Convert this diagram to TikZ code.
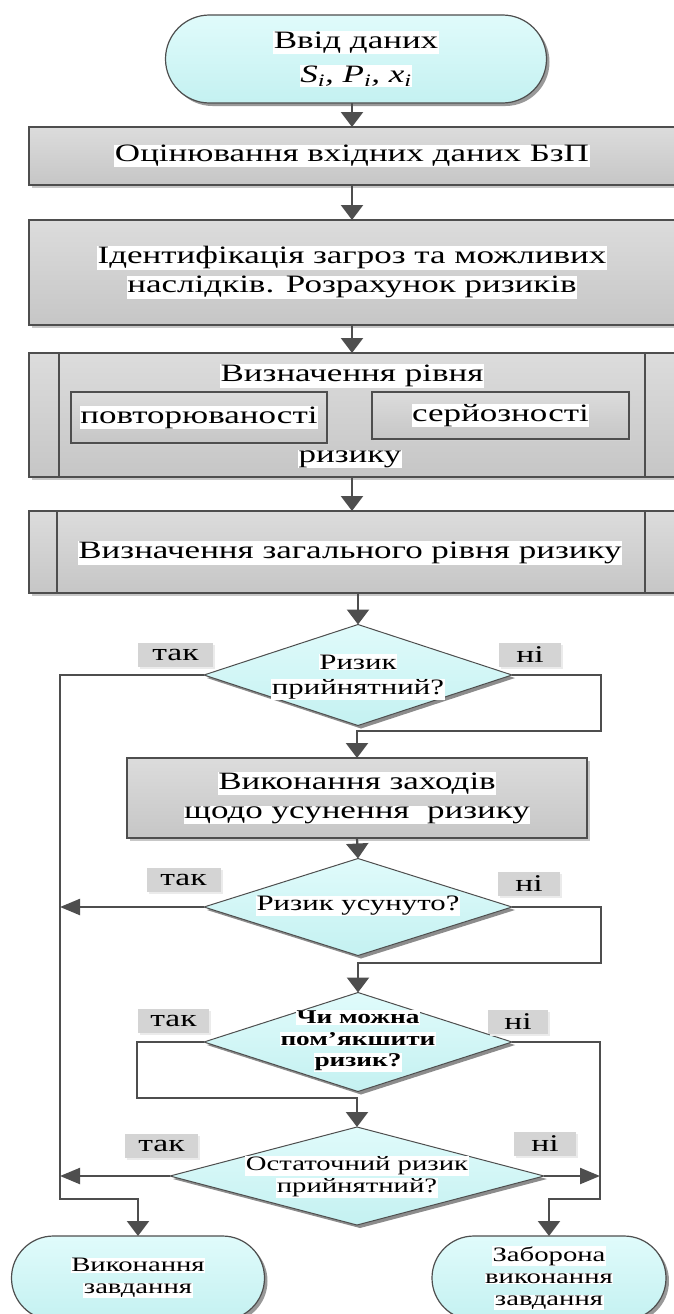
\documentclass[tikz,border=0pt]{standalone}
\usepackage{fontspec}
\setmainfont{Liberation Serif}[FakeStretch=1.4]
\usetikzlibrary{shapes.geometric,arrows.meta,shadows}
\definecolor{cyanT}{RGB}{224,251,251}
\definecolor{cyanB}{RGB}{196,241,241}
\definecolor{grT}{RGB}{220,220,220}
\definecolor{grB}{RGB}{198,198,198}
\definecolor{edge}{RGB}{78,78,78}
\definecolor{tagc}{RGB}{212,212,212}
\newcommand{\hw}[1]{{\setlength{\fboxsep}{0.6pt}\colorbox{white}{#1}}}
\newcommand{\fbig}{\fontsize{25}{28}\selectfont}
\newcommand{\fmid}{\fontsize{22}{24}\selectfont}
\newcommand{\fsmall}{\fontsize{20.5}{22}\selectfont}
\begin{document}
\begin{tikzpicture}[x=1pt,y=-1pt,
  every node/.style={inner sep=0pt,outer sep=0pt,align=center},
  procbox/.style={rectangle,draw=edge,line width=1.4pt,top color=grT,bottom color=grB,
    drop shadow={shadow xshift=3pt,shadow yshift=-3pt,fill=black!22,opacity=1}},
  innerbox/.style={rectangle,draw=edge,line width=1.2pt,top color=grT,bottom color=grB,
    drop shadow={shadow xshift=2pt,shadow yshift=-2pt,fill=black!18,opacity=1}},
  termbox/.style={rectangle,draw=edge,line width=1.2pt,top color=cyanT,bottom color=cyanB,
    drop shadow={shadow xshift=3pt,shadow yshift=-3pt,fill=black!40,opacity=1}},
  decbox/.style={diamond,draw=edge,line width=1pt,top color=cyanT,bottom color=cyanB,
    drop shadow={shadow xshift=3pt,shadow yshift=-3pt,fill=black!45,opacity=1}},
  tag/.style={rectangle,fill=tagc,font=\fontsize{24}{26}\selectfont,minimum height=24pt,
    drop shadow={shadow xshift=2pt,shadow yshift=-2pt,fill=black!8,opacity=1}},
  conn/.style={draw=edge,line width=2.2pt},
  varr/.style={conn,-{Triangle[width=22pt,length=15pt]}},
  harr/.style={conn,-{Triangle[width=16pt,length=20pt]}},
  font=\fbig
]
\useasboundingbox (0,0) rectangle (674,1314);

% start
\node[termbox,minimum width=381pt,minimum height=88pt,rounded corners=44pt] (start) at (356,59)
  {\hw{Ввід даних}\\[6pt]\hw{\itshape S\textsubscript{i}, P\textsubscript{i}, x\textsubscript{i}}};

% process boxes
\node[procbox,minimum width=646pt,minimum height=58pt] (b1) at (352,156)
  {\hw{Оцінювання вхідних даних БзП}};
\node[procbox,minimum width=646pt,minimum height=105pt] (b2) at (352,272.5)
  {\hw{Ідентифікація загроз та можливих}\\[1pt]\hw{наслідків. Розрахунок ризиків}};

\node[procbox,minimum width=646pt,minimum height=124pt] (b3) at (352,415) {};
\draw[edge,line width=1.4pt] ([xshift=30pt]b3.north west) -- ([xshift=30pt]b3.south west);
\draw[edge,line width=1.4pt] ([xshift=-30pt]b3.north east) -- ([xshift=-30pt]b3.south east);
\node (b3a) at (352,376) {\hw{Визначення рівня}};
\node[innerbox,minimum width=256pt,minimum height=51pt] (p1) at (199,417.5) {\hw{повторюваності}};
\node[innerbox,minimum width=257pt,minimum height=47pt] (p2) at (500.5,415.5) {\hw{серйозності}};
\node (b3b) at (350,459) {\hw{ризику}};

\node[procbox,minimum width=646pt,minimum height=82pt] (b4) at (352,552) {};
\draw[edge,line width=1.4pt] ([xshift=28pt]b4.north west) -- ([xshift=28pt]b4.south west);
\draw[edge,line width=1.4pt] ([xshift=-30pt]b4.north east) -- ([xshift=-30pt]b4.south east);
\node (b4t) at (350,553) {\hw{Визначення загального рівня ризику}};

% decision 1
\node[decbox,minimum width=308pt,minimum height=101pt] (d1) at (358,675) {};
\node[font=\fmid] (d1t) at (358,677) {\hw{Ризик}\\[1pt]\hw{прийнятний?}};
\node[tag,minimum width=75pt] (y1) at (175.5,655) {так};
\node[tag,minimum width=62pt] (n1) at (530,654.5) {ні};

\node[procbox,minimum width=460pt,minimum height=80pt] (b5) at (357,798)
  {\hw{Виконання заходів}\\[1pt]\hw{щодо усунення\ \ ризику}};

% decision 2
\node[decbox,minimum width=308pt,minimum height=97pt] (d2) at (358,907) {};
\node[font=\fmid] (d2t) at (358,906) {\hw{Ризик усунуто?}};
\node[tag,minimum width=74pt] (y2) at (183.5,880) {так};
\node[tag,minimum width=62pt] (n2) at (529,884) {ні};

% decision 3
\node[decbox,minimum width=308pt,minimum height=99pt] (d3) at (358,1042) {};
\node[font=\fontsize{19.5}{21.5}\selectfont\bfseries] (d3t) at (358,1041) {\hw{Чи можна}\\\hw{пом’якшити}\\\hw{ризик?}};
\node[tag,minimum width=71pt] (y3) at (173.5,1021) {так};
\node[tag,minimum width=60pt] (n3) at (518,1022) {ні};

% decision 4
\node[decbox,minimum width=374pt,minimum height=98pt] (d4) at (357,1176) {};
\node[font=\fsmall] (d4t) at (357,1177) {\hw{Остаточний ризик}\\\hw{прийнятний?}};
\node[tag,minimum width=73pt] (y4) at (161.5,1146) {так};
\node[tag,minimum width=62pt] (n4) at (545,1143.5) {ні};

% end terminators
\node[termbox,font=\fsmall,minimum width=253pt,minimum height=84pt,rounded corners=42pt] (t1) at (138,1278)
  {\hw{Виконання}\\\hw{завдання}};
\node[termbox,font=\fsmall,minimum width=234pt,minimum height=84pt,rounded corners=42pt] (t2) at (549,1278)
  {\hw{Заборона}\\\hw{виконання}\\\hw{завдання}};

% routing coordinates
\coordinate (lb) at (60,1199);
\coordinate (rb) at (600,1199);
\coordinate (r1) at (601,731);
\coordinate (r2) at (601,963);
\coordinate (l3) at (137,1098);

% connectors
\draw[varr] (b1.north |- start.south) -- (b1.north);
\draw[varr] (b1.south) -- (b2.north);
\draw[varr] (b2.south) -- (b3.north);
\draw[varr] (b3.south) -- (b4.north);
\draw[varr] (d1.north |- b4.south) -- (d1.north);
\draw[varr] (d1.west) -| (lb) -| (t1.north);
\draw[varr] (d1.east) -| (r1) -| (b5.north);
\draw[varr] (b5.south) -- (d2.north);
\draw[harr] (d2.west) -- (d2.west -| lb);
\draw[varr] (d2.east) -| (r2) -| (d3.north);
\draw[varr] (d3.west) -| (l3) -| (d4.north);
\draw[varr] (d3.east) -| (rb) -| (t2.north);
\draw[harr] (d4.west) -- (d4.west -| lb);
\draw[harr] (d4.east) -- (d4.east -| rb);
\end{tikzpicture}
\end{document}
